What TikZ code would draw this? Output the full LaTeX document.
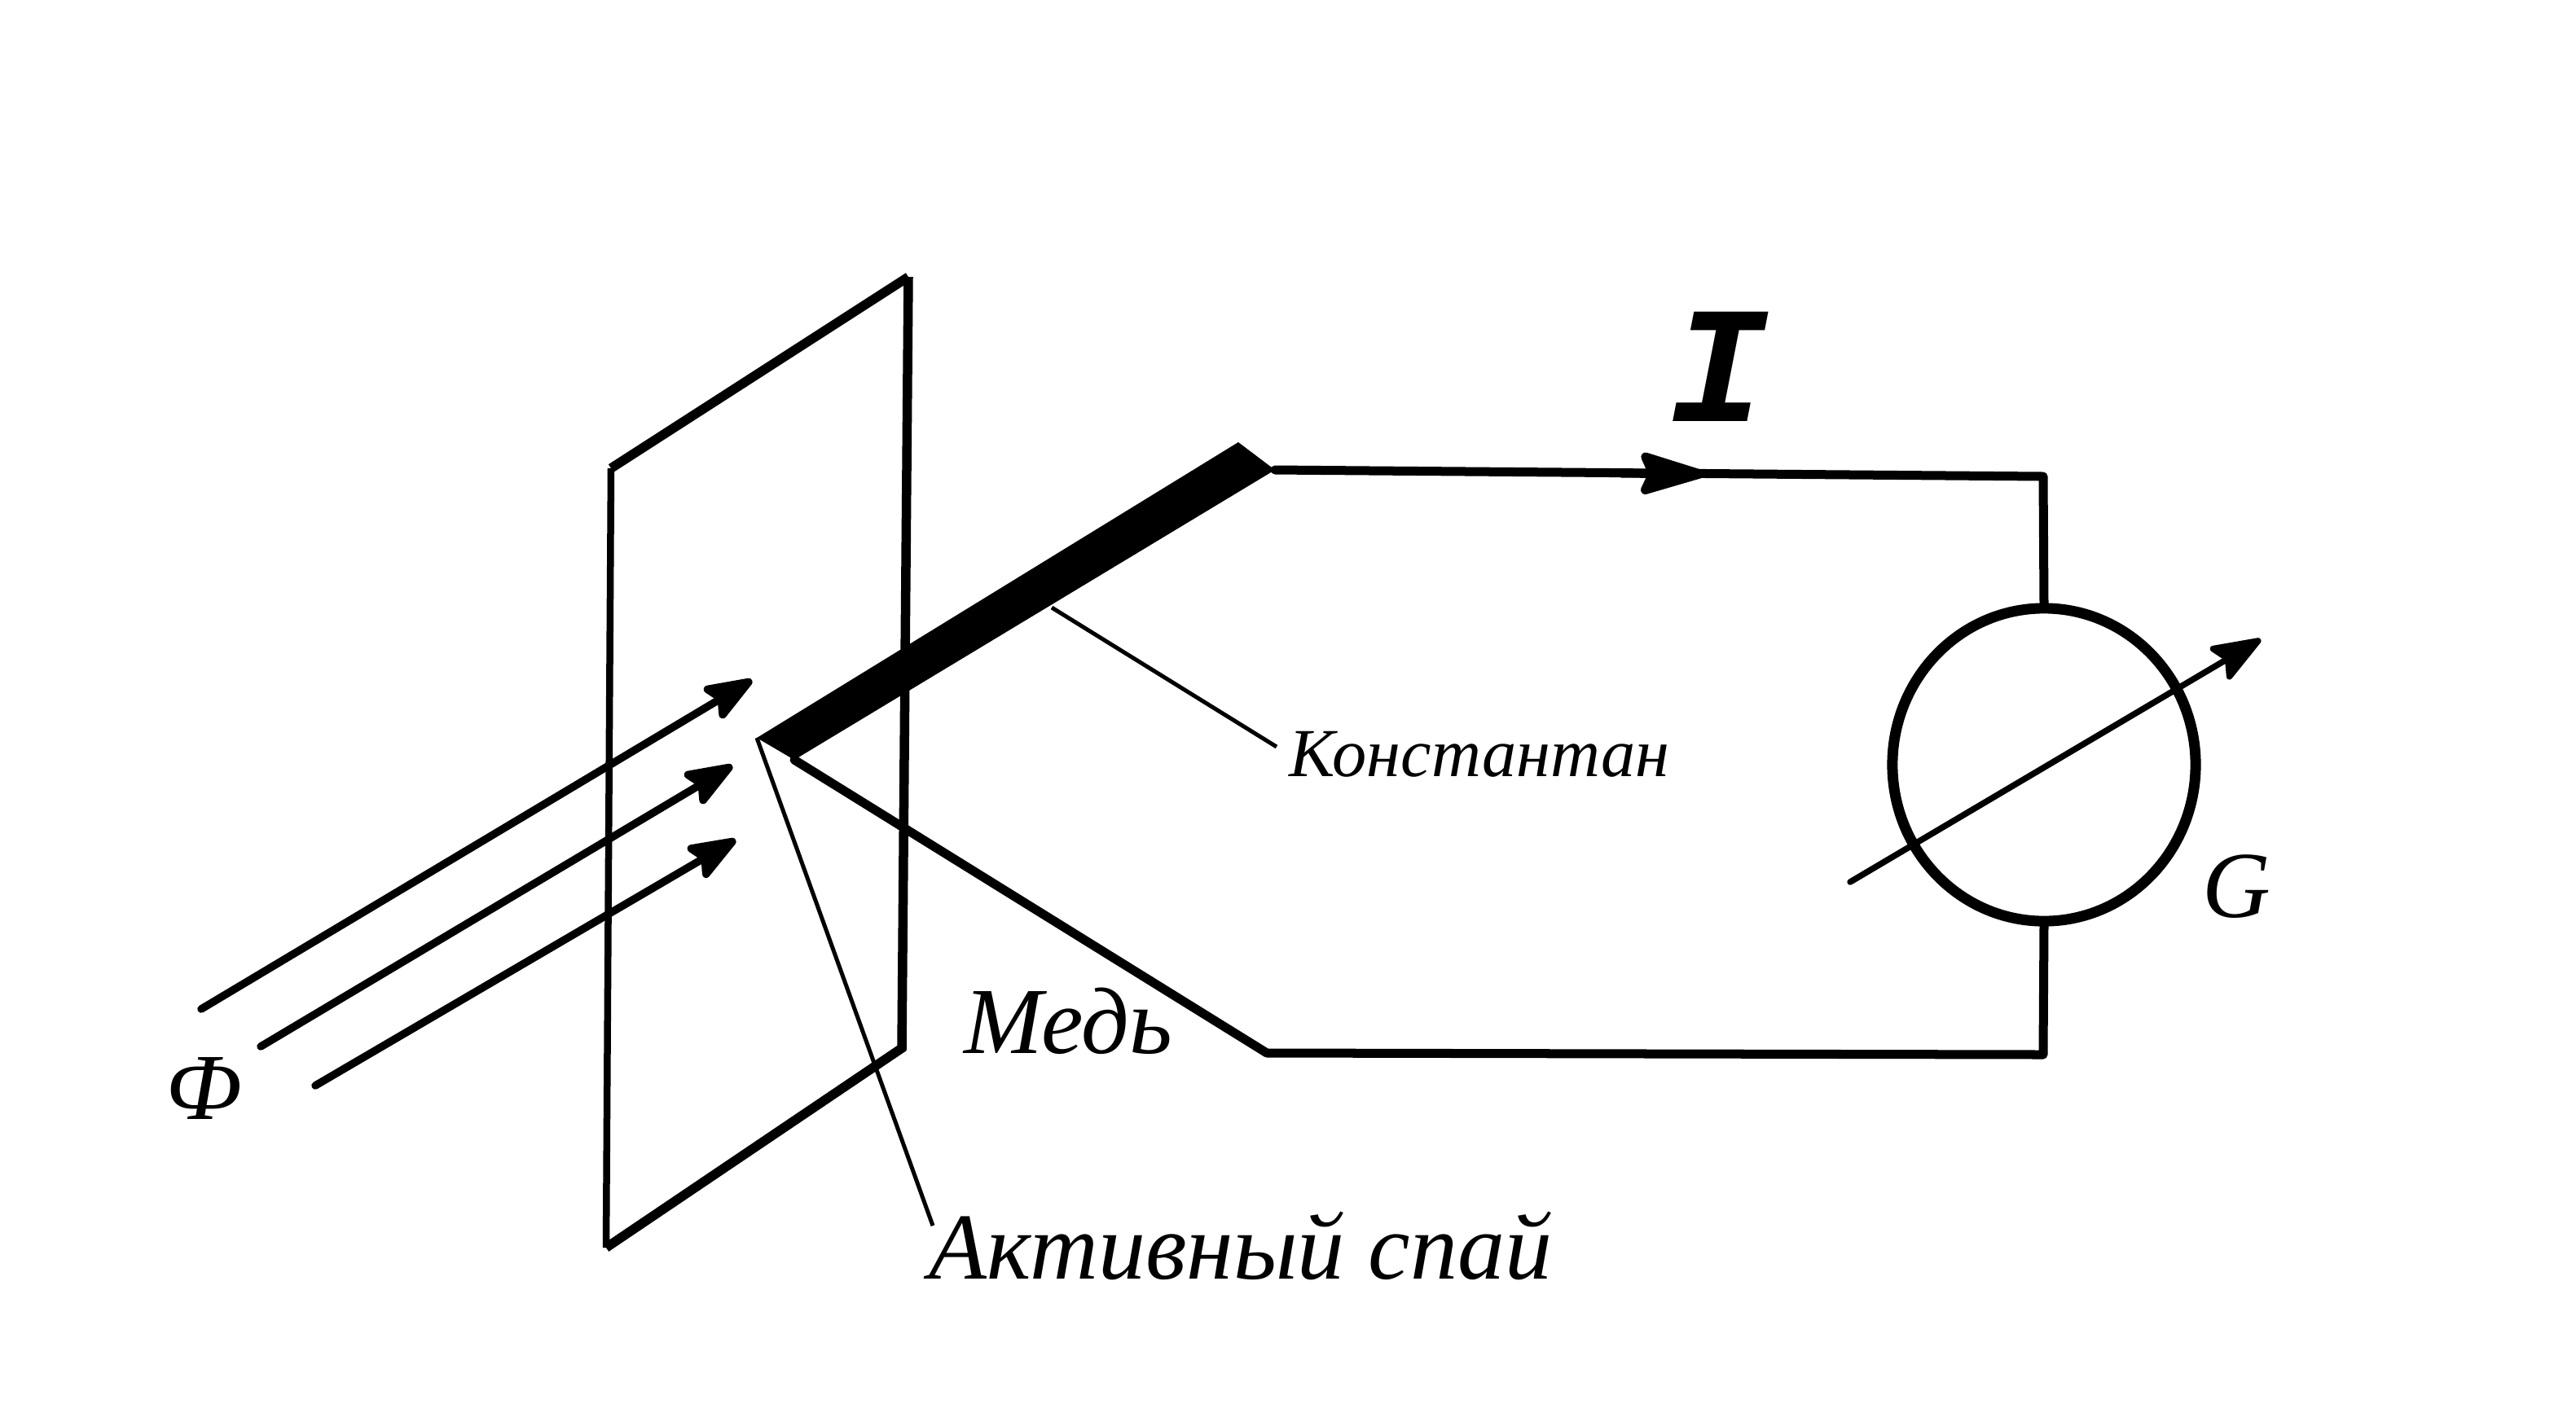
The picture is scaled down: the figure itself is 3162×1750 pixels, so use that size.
\documentclass[tikz,border=0pt]{standalone}
\usepackage{fontspec}
\setmainfont{Liberation Serif}
\newfontfamily\currentfont{Liberation Mono}
\usetikzlibrary{arrows.meta,shapes.geometric}
\tikzset{
	wire/.style={line width=.11cm,line join=round,line cap=round},
	plate/.style={line width=.115cm,line join=miter},
	leader/.style={line width=.05cm},
	ray/.style={line width=.095cm,line cap=round,-{Stealth[round,length=.7cm,width=.52cm,inset=.12cm]}},
	biglabel/.style={anchor=base west,inner sep=0,font=\fontsize{33}{33}\selectfont\itshape},
}
\begin{document}
\begin{tikzpicture}[x=.01cm,y=-.01cm]
	\useasboundingbox (0,0) rectangle (3162,1750);

	\coordinate (PA) at (750,575);
	\coordinate (PB) at (1115,340);
	\coordinate (PC) at (1107,1287);
	\coordinate (PD) at (744,1532);
	\draw[plate] (PB)--(PC)--(PD);
	\draw[plate] (PA)--(PB);
	\draw[line width=.085cm] (PA)--(PD);

	\coordinate (JA) at (929,906);
	\coordinate (JB) at (1520,543);
	\coordinate (JC) at (1565,577);
	\coordinate (JD) at (975,933);
	\fill[line join=round] (JA)--(JB)--(JC)--(JD)--cycle;

	\node[draw,shape=ellipse,line width=.13cm,inner sep=0,minimum width=3.72cm,minimum height=3.84cm] (G) at (2509,939) {};
	\coordinate (WA) at (2508,585);
	\coordinate (WB) at (2508,1295);
	\coordinate (WC) at (1555,1293);
	\draw[wire] (JC)--(WA)--(G.north);
	\draw[wire] (G.south)--(WB)--(WC)--(JD);

	\coordinate (IA) at (1990,581);
	\coordinate (IB) at (2092,582);
	\draw[wire,-{Stealth[round,length=.95cm,width=.56cm,inset=.12cm]}] (IA)--(IB);

	\coordinate (RA) at (247,1239);
	\coordinate (RB) at (923,835);
	\coordinate (RC) at (320,1285);
	\coordinate (RD) at (899,940);
	\coordinate (RE) at (387,1333);
	\coordinate (RF) at (903,1031);
	\draw[ray] (RA)--(RB);
	\draw[ray] (RC)--(RD);
	\draw[ray] (RE)--(RF);

	\coordinate (MA) at (2271,1083);
	\coordinate (MB) at (2775,785);
	\draw[ray,line width=.075cm] (MA)--(MB);

	\coordinate (LA) at (1145,1505);
	\coordinate (LB) at (1291,746);
	\coordinate (LC) at (1567,917);
	\draw[leader] (JA)--(LA);
	\draw[leader] (LB)--(LC);

	\node[biglabel] (FLUX) at (203,1374) {Ф};
	\node[biglabel] (JUNCTION) at (1140,1570) {Активный спай};
	\node[biglabel] (COPPER) at (1183,1293) {Медь};
	\node[biglabel] (GALV) at (2703,1126) {G};
	\node[biglabel,font=\fontsize{24}{24}\selectfont\itshape] (ALLOY) at (1582,953) {Константан};
	\node[anchor=base,inner sep=0,font=\fontsize{58}{58}\selectfont\currentfont\bfseries\itshape] (CURRENT) at (2110,517) {I};
\end{tikzpicture}
\end{document}
